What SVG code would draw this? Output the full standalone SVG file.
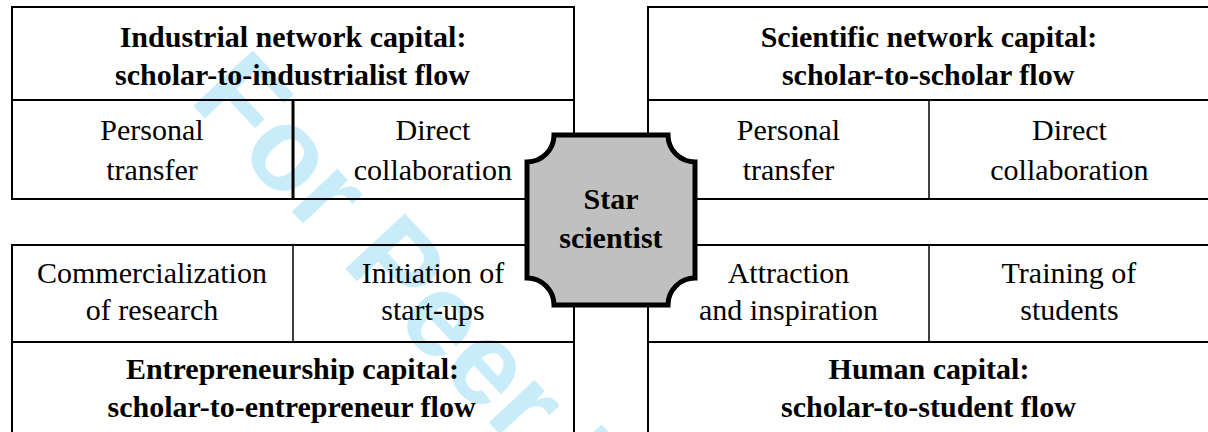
<svg xmlns="http://www.w3.org/2000/svg" width="1208" height="432" viewBox="0 0 1208 432">
<rect width="1208" height="432" fill="#fff"/>
<g id="watermark">
<text x="0" y="0" font-family="Liberation Sans" font-weight="bold" font-size="118" fill="#c9ecfb" transform="translate(188,100) rotate(47)">For Peer Review</text>
</g>
<g id="industrial">
<rect x="12" y="7" width="562" height="192" fill="none" stroke="#000" stroke-width="2"/>
<line x1="12" y1="100" x2="574" y2="100" stroke="#000" stroke-width="2"/>
<line x1="293" y1="100" x2="293" y2="199" stroke="#000" stroke-width="3"/>
<text x="119.7" y="47" font-family="Liberation Serif" font-weight="bold" font-size="30">Industrial network capital:</text>
<text x="115.1" y="85" font-family="Liberation Serif" font-weight="bold" font-size="30">scholar-to-industrialist flow</text>
<text x="100.3" y="140" font-family="Liberation Serif" font-size="30">Personal</text>
<text x="106.2" y="180" font-family="Liberation Serif" font-size="30">transfer</text>
<text x="395.5" y="140" font-family="Liberation Serif" font-size="30">Direct</text>
<text x="353.8" y="180" font-family="Liberation Serif" font-size="30">collaboration</text>
</g>
<g id="scientific">
<rect x="648" y="7" width="570" height="192" fill="none" stroke="#000" stroke-width="2"/>
<line x1="648" y1="100" x2="1218" y2="100" stroke="#000" stroke-width="2"/>
<line x1="929" y1="100" x2="929" y2="199" stroke="#000" stroke-width="1.5"/>
<text x="760.7" y="47" font-family="Liberation Serif" font-weight="bold" font-size="30">Scientific network capital:</text>
<text x="781.9" y="85" font-family="Liberation Serif" font-weight="bold" font-size="30">scholar-to-scholar flow</text>
<text x="736.8" y="140" font-family="Liberation Serif" font-size="30">Personal</text>
<text x="742.7" y="180" font-family="Liberation Serif" font-size="30">transfer</text>
<text x="1032" y="140" font-family="Liberation Serif" font-size="30">Direct</text>
<text x="990.3" y="180" font-family="Liberation Serif" font-size="30">collaboration</text>
</g>
<g id="entrepreneurship">
<rect x="12" y="245" width="562" height="200" fill="none" stroke="#000" stroke-width="2"/>
<line x1="12" y1="342" x2="574" y2="342" stroke="#000" stroke-width="2"/>
<line x1="293" y1="245" x2="293" y2="342" stroke="#000" stroke-width="1.5"/>
<text x="37" y="283" font-family="Liberation Serif" font-size="30">Commercialization</text>
<text x="85.8" y="320" font-family="Liberation Serif" font-size="30">of research</text>
<text x="361.8" y="283" font-family="Liberation Serif" font-size="30">Initiation of</text>
<text x="381.3" y="320" font-family="Liberation Serif" font-size="30">start-ups</text>
<text x="125.9" y="379" font-family="Liberation Serif" font-weight="bold" font-size="30">Entrepreneurship capital:</text>
<text x="107.6" y="417" font-family="Liberation Serif" font-weight="bold" font-size="30">scholar-to-entrepreneur flow</text>
</g>
<g id="human">
<rect x="648" y="245" width="570" height="200" fill="none" stroke="#000" stroke-width="2"/>
<line x1="648" y1="342" x2="1218" y2="342" stroke="#000" stroke-width="2"/>
<line x1="929" y1="245" x2="929" y2="342" stroke="#000" stroke-width="1.5"/>
<text x="727.7" y="283" font-family="Liberation Serif" font-size="30">Attraction</text>
<text x="698.9" y="320" font-family="Liberation Serif" font-size="30">and inspiration</text>
<text x="1001.6" y="283" font-family="Liberation Serif" font-size="30">Training of</text>
<text x="1020.3" y="320" font-family="Liberation Serif" font-size="30">students</text>
<text x="828.6" y="379" font-family="Liberation Serif" font-weight="bold" font-size="30">Human capital:</text>
<text x="781.1" y="417" font-family="Liberation Serif" font-weight="bold" font-size="30">scholar-to-student flow</text>
</g>
<g id="connectors"></g>
<g id="star">
<path d="M554,135 H668 A27,27 0 0 0 695,162 V278 A27,27 0 0 0 668,305 H554 A27,27 0 0 0 527,278 V162 A27,27 0 0 0 554,135 Z" fill="#c0c0c0" stroke="#000" stroke-width="5"/>
<text x="583.5" y="209" font-family="Liberation Serif" font-weight="bold" font-size="30">Star</text>
<text x="559.3" y="248" font-family="Liberation Serif" font-weight="bold" font-size="30">scientist</text>
</g>
</svg>
